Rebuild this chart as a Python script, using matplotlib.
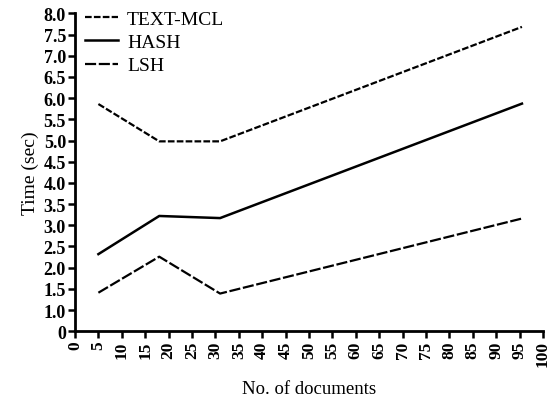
import matplotlib
matplotlib.use("Agg")
import matplotlib.pyplot as plt
import numpy as np

# values
docs = [5, 18, 31, 95.5]
text_mcl = [5.86, 4.98, 4.98, 7.68]
hash_t = [2.32, 3.22, 3.17, 5.87]
lsh = [1.41, 2.26, 1.39, 3.16]

x_ticks = list(range(0, 101, 5))
# broken y axis: the "0" label sits one half-step below 1.0
y_ticks = [0.5] + [1.0 + 0.5 * i for i in range(15)]
y_labels = ["0"] + ["%.1f" % v for v in y_ticks[1:]]

plt.rcParams["font.family"] = ["Liberation Serif", "DejaVu Serif"]

fig = plt.figure(figsize=(5.51, 4.02), dpi=100)
ax = fig.add_axes([0.1361, 0.1734, 0.8494, 0.791])

ax.plot(docs, text_mcl, color="black", lw=1.6, linestyle=(0, (3, 1)), label="TEXT-MCL")
ax.plot(docs, hash_t, color="black", lw=1.8, linestyle="-", label="HASH")
ax.plot(docs, lsh, color="black", lw=1.6, linestyle=(0, (5, 1.2)), label="LSH")

ax.set_xlim(0, 100)
ax.set_ylim(0.5, 8.0)
ax.set_xticks(x_ticks)
ax.set_xticklabels([str(v) for v in x_ticks], rotation=90, fontweight="bold", fontsize=12.5)
ax.set_yticks(y_ticks)
ax.set_yticklabels(y_labels, fontweight="bold", fontsize=13)

for side in ["top", "right"]:
    ax.spines[side].set_visible(False)
for side in ["left", "bottom"]:
    ax.spines[side].set_linewidth(2)
ax.tick_params(direction="out", length=5, width=1.8, pad=1.5)

ax.set_xlabel("No. of documents", fontsize=13.5, labelpad=10)
ax.set_ylabel("Time (sec)", fontsize=14, labelpad=3)

ax.legend(loc="upper left", frameon=False, fontsize=14, handlelength=1.7,
          handletextpad=0.45, labelspacing=0.3, borderaxespad=0.0,
          bbox_to_anchor=(0.005, 1.035))

fig.savefig("out.png", dpi=100)
